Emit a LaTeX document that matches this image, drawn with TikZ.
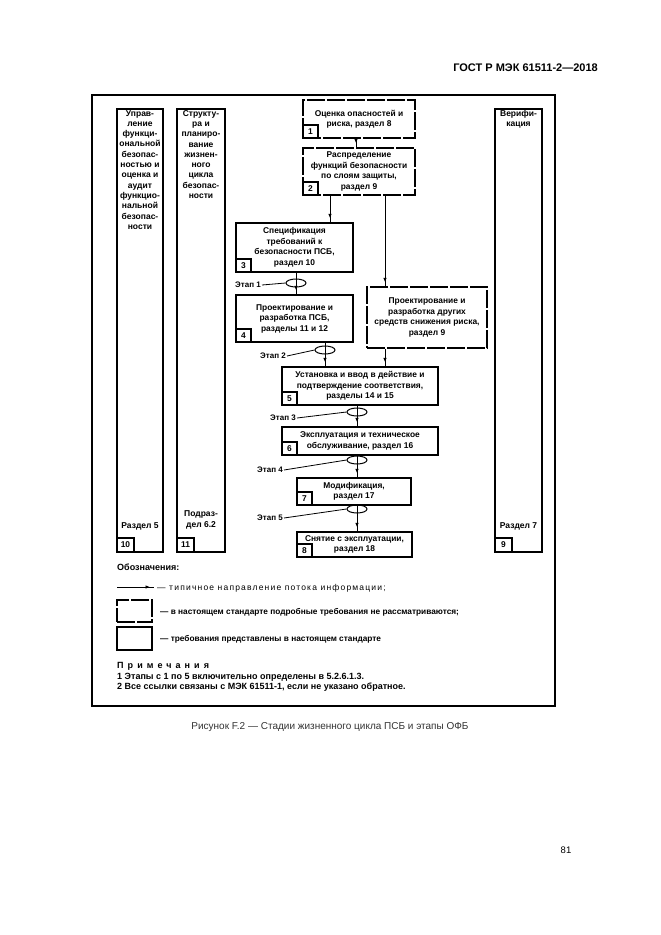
\documentclass[tikz,border=0pt]{standalone}
\usepackage{fontspec}
\setmainfont{Liberation Sans}
\usetikzlibrary{arrows.meta,shapes.geometric,decorations.markings}
\tikzset{
  dtext/.style={font=\bfseries\fontsize{8.4}{10.5}\selectfont},
  mbox/.style={draw,line width=1.4pt,align=center,inner sep=1pt,dtext},
  dbox/.style={mbox,dash pattern=on 18pt off 2pt},
  numbox/.style={draw,line width=1.4pt,minimum width=15pt,minimum height=13pt,inner sep=0pt,anchor=south west,dtext},
  colbox/.style={draw,line width=1.4pt,inner sep=0pt},
  coltext/.style={align=center,inner sep=0pt,font=\bfseries\fontsize{8.5}{10.3}\selectfont},
  arr/.style={line width=1pt,postaction={decorate},
    decoration={markings,mark=at position -4pt with {\arrow{Latex[length=4.5pt,width=3.6pt]}}}},
  stg/.style={ellipse,draw,line width=1pt,minimum width=20pt,minimum height=8pt,inner sep=0pt},
  stglabel/.style={anchor=east,inner sep=1pt,font=\bfseries\fontsize{8}{10}\selectfont},
  stgline/.style={line width=0.8pt},
  legtext/.style={anchor=west,inner sep=0pt,font=\bfseries\fontsize{8.3}{10}\selectfont},
  notetext/.style={anchor=west,inner sep=0pt,font=\bfseries\fontsize{9}{11}\selectfont},
}
\begin{document}
\begin{tikzpicture}[x=1pt,y=-1pt]
\useasboundingbox (0,0) rectangle (661,935);
\fill[white] (0,0) rectangle (661,935);

% header
\node[anchor=east,inner sep=0pt,font=\bfseries\fontsize{11}{13}\selectfont] (hdr) at (598,68) {ГОСТ Р МЭК 61511-2—2018};

% frame
\draw[line width=2pt] (92,95) rectangle (555,706);

% columns
\node[colbox,minimum width=46pt,minimum height=443pt] (c10) at (140,330.5) {};
\node[colbox,minimum width=48pt,minimum height=443pt] (c11) at (201,330.5) {};
\node[colbox,minimum width=47pt,minimum height=443pt] (c9) at (518.5,330.5) {};
\node[coltext,anchor=north] (t10) at (140,110) {Управ-\\ление\\функци-\\ональной\\безопас-\\ностью и\\оценка и\\аудит\\функцио-\\нальной\\безопас-\\ности};
\node[coltext,anchor=north] (t11) at (201,110) {Структу-\\ра и\\планиро-\\вание\\жизнен-\\ного\\цикла\\безопас-\\ности};
\node[coltext,anchor=north] (t9) at (518.5,110) {Верифи-\\кация};
\node[coltext] (r10) at (140,526) {Раздел 5};
\node[coltext] (r11) at (201,520) {Подраз-\\дел 6.2};
\node[coltext] (r9) at (518.5,526) {Раздел 7};
\node[numbox,minimum width=17pt,minimum height=14pt] (n10) at (c10.south west) {10};
\node[numbox,minimum width=17pt,minimum height=14pt] (n11) at (c11.south west) {11};
\node[numbox,minimum width=17pt,minimum height=14pt] (n9) at (c9.south west) {9};

% boxes
\node[dbox,minimum width=112pt,minimum height=38pt] (b1) at (359,119) {Оценка опасностей и\\риска, раздел 8};
\node[dbox,minimum width=112pt,minimum height=47pt] (b2) at (359,171.5) {Распределение\\функций безопасности\\по слоям защиты,\\раздел 9};
\node[mbox,minimum width=117pt,minimum height=49pt] (b3) at (294.5,247.5) {Спецификация\\требований к\\безопасности ПСБ,\\раздел 10};
\node[mbox,minimum width=117pt,minimum height=47pt] (b4) at (294.5,318.5) {Проектирование и\\разработка ПСБ,\\разделы 11 и 12};
\node[dbox,minimum width=120pt,minimum height=61pt] (R) at (427,317.5) {Проектирование и\\разработка других\\средств снижения риска,\\раздел 9};
\node[mbox,minimum width=156pt,minimum height=38pt] (b5) at (360,386) {Установка и ввод в действие и\\подтверждение соответствия,\\разделы 14 и 15};
\node[mbox,minimum width=156pt,minimum height=28pt] (b6) at (360,441) {Эксплуатация и техническое\\обслуживание, раздел 16};
\node[mbox,minimum width=114pt,minimum height=27pt] (b7) at (354,491.5) {Модификация,\\раздел 17};
\node[mbox,minimum width=115pt,minimum height=25pt] (b8) at (354.5,544.5) {Снятие с эксплуатации,\\раздел 18};
\foreach \b/\n in {b1/1,b2/2,b3/3,b4/4,b5/5,b6/6,b7/7,b8/8}
  \node[numbox] (n\n) at (\b.south west) {\n};

% stages
\node[stg] (e1) at (296,283) {};
\node[stg] (e2) at (325,350) {};
\node[stg] (e3) at (357,412) {};
\node[stg] (e4) at (357,460) {};
\node[stg] (e5) at (357,509) {};
\node[stglabel] (l1) at (262,285) {Этап 1};
\node[stglabel] (l2) at (287,356) {Этап 2};
\node[stglabel] (l3) at (297,418) {Этап 3};
\node[stglabel] (l4) at (284,470) {Этап 4};
\node[stglabel] (l5) at (284,518) {Этап 5};
\foreach \i in {1,...,5} \draw[stgline] (l\i.east) -- (e\i.west);

% arrows
\coordinate (x1) at (356,0);
\coordinate (x2) at (330,0);
\coordinate (xr) at (385,0);
\draw[arr] (b1.south -| x1) -- (b2.north -| x1);
\draw[arr] (b2.south -| x2) -- (b3.north -| x2);
\draw[arr] (b2.south -| xr) -- (R.north -| xr);
\draw[arr] (b3.south -| e1) -- (b4.north -| e1);
\draw[arr] (b4.south -| e2) -- (b5.north -| e2);
\draw[arr] (R.south -| xr) -- (b5.north -| xr);
\draw[arr] (b5.south -| e3) -- (b6.north -| e3);
\draw[arr] (b6.south -| e4) -- (b7.north -| e4);
\draw[arr] (b7.south -| e5) -- (b8.north -| e5);

% legend
\node[notetext] (leg) at (117,567) {Обозначения:};
\coordinate (la) at (117,587);
\coordinate (lb) at (154,587);
\draw[arr] (la) -- (lb);
\node[legtext,font=\fontsize{8.5}{10}\selectfont\addfontfeature{LetterSpace=14}] (lt1) at (157,588) {— типичное направление потока информации;};
\node[dbox,minimum width=35pt,minimum height=22pt] (ld) at (134.5,611) {};
\node[legtext] (lt2) at (160,612) {— в настоящем стандарте подробные требования не рассматриваются;};
\node[mbox,minimum width=35pt,minimum height=23pt] (ls) at (134.5,638.5) {};
\node[legtext] (lt3) at (160,639) {— требования представлены в настоящем стандарте};

% notes
\node[notetext,font=\bfseries\fontsize{9}{11}\selectfont\addfontfeature{LetterSpace=45}] (nh) at (117,666) {Примечания};
\node[notetext] (nt1) at (117,677) {1 Этапы с 1 по 5 включительно определены в 5.2.6.1.3.};
\node[notetext] (nt2) at (117,687) {2 Все ссылки связаны с МЭК 61511-1, если не указано обратное.};

% caption and page number
\node[font=\fontsize{10}{12}\selectfont,text=black!80] (cap) at (330,727) {Рисунок F.2 — Стадии жизненного цикла ПСБ и этапы ОФБ};
\node[font=\fontsize{9.5}{11}\selectfont] (pg) at (566,850) {81};
\end{tikzpicture}
\end{document}
